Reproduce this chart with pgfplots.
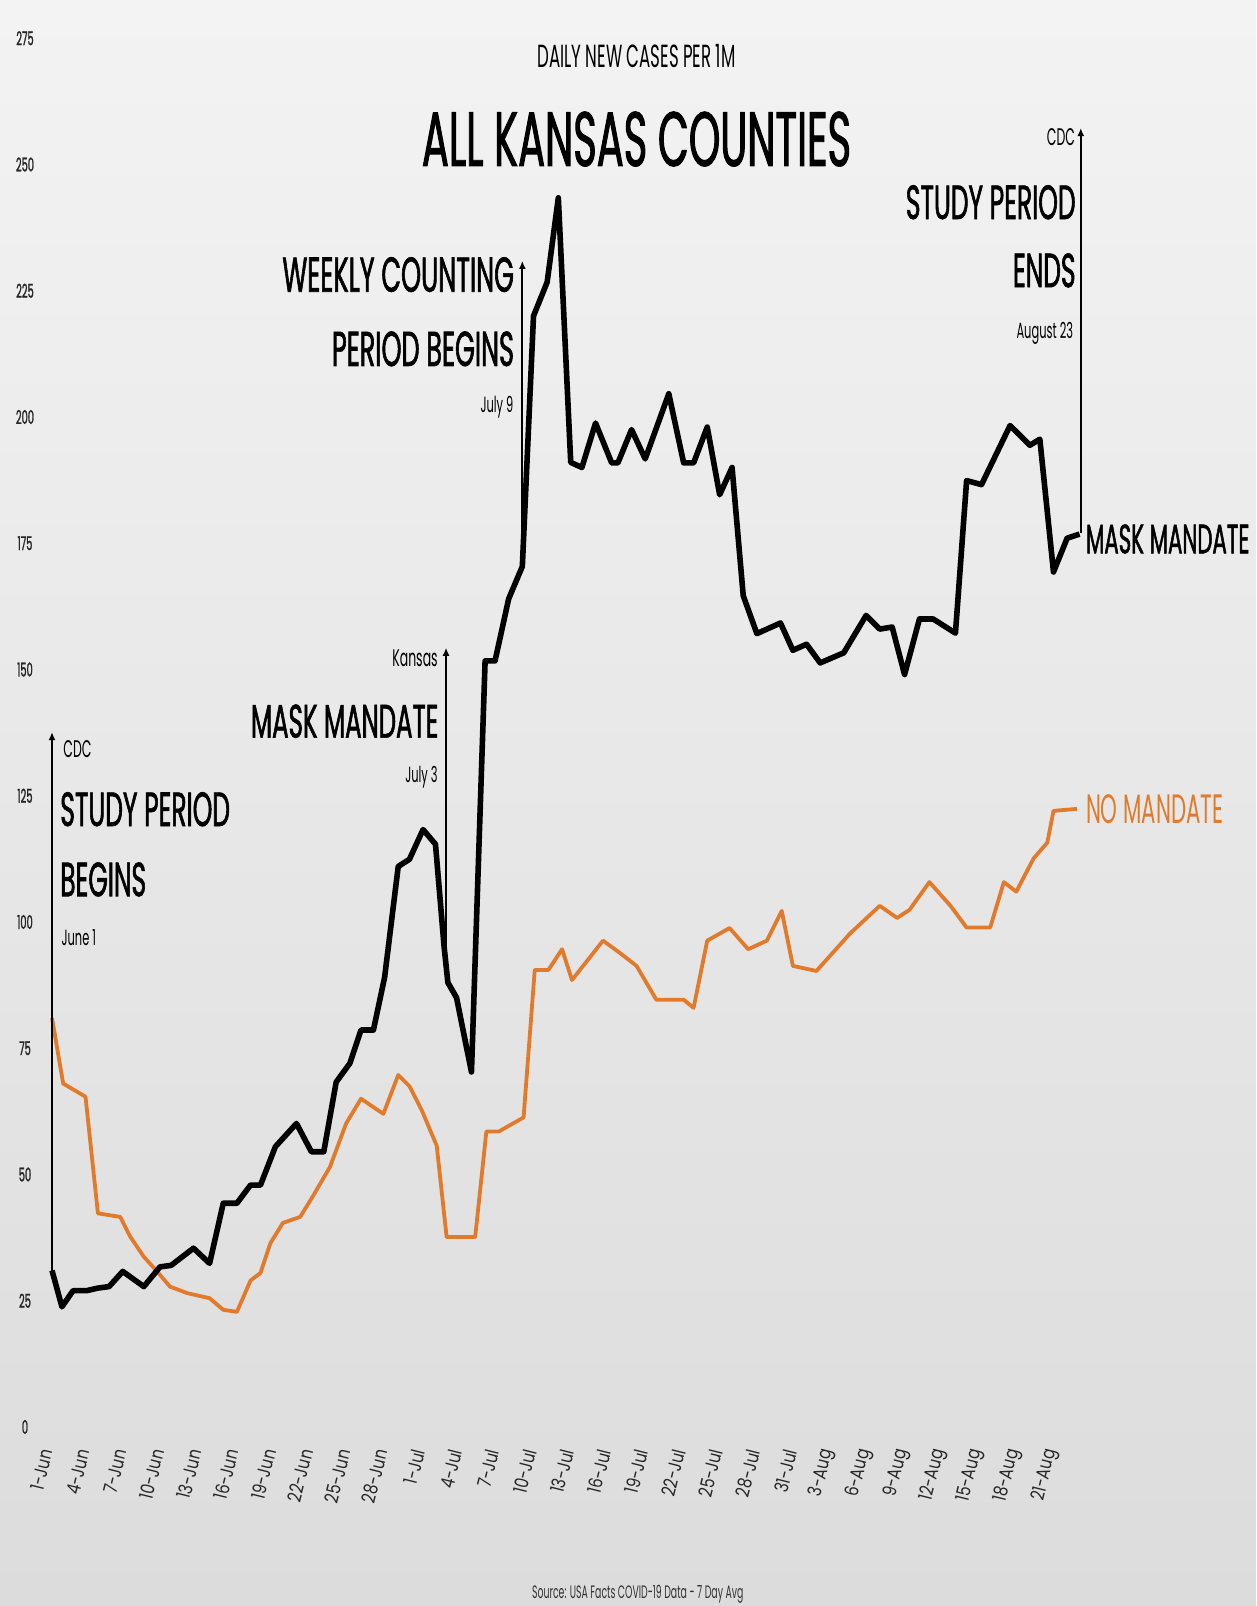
\documentclass[border=0pt]{standalone}
\usepackage{fontspec}
\setmainfont{Poppins}[FakeStretch=0.52]
\newfontfamily\plainfont{Poppins}[FakeStretch=0.8]
\newfontfamily\bigfont{Poppins}[FakeStretch=0.52, FakeBold=1.2]
\usepackage{pgfplots}
\pgfplotsset{compat=1.18}
\usetikzlibrary{arrows.meta,backgrounds}
\definecolor{orng}{RGB}{226,122,44}
\definecolor{txt}{RGB}{22,22,22}
\definecolor{bgtop}{RGB}{243,243,243}
\definecolor{bgbot}{RGB}{220,220,220}

\pgfplotstableread{
x y
0 31
0.8 23.8
1.7 27
2.8 27
3.7 27.5
4.6 27.8
5.7 30.8
7.4 27.8
8.7 31.7
9.6 32
11.4 35.4
12.7 32.4
13.8 44.3
14.9 44.3
16 47.9
16.8 47.9
18 55.5
19.7 60.1
20.9 54.5
21.9 54.5
22.9 68.3
24 72
24.9 78.6
25.9 78.6
26.8 89
27.9 111
28.8 112.4
29.9 118.3
30.9 115.4
31.6 95
31.9 88
32.6 85
33.8 70.3
34.9 151.7
35.7 151.7
36.8 164
37.9 170.4
38.8 220
39.9 226.7
40.8 243.4
41.8 191
42.7 190
43.8 198.8
45.1 190.9
45.6 190.9
46.7 197.5
47.8 191.7
49.7 204.6
50.9 190.9
51.7 190.9
52.8 198
53.8 184.6
54.8 190
55.7 164.6
56.8 157.1
58.7 159.2
59.7 153.8
60.8 155
61.9 151.3
63.8 153.3
65.6 160.7
66.7 158
67.7 158.4
68.7 149
69.9 160
71 160
72.8 157.2
73.7 187.4
74.9 186.6
77.2 198.3
78.8 194.4
79.6 195.6
80.7 169.3
81.8 176
82.8 176.8
}\mask

\pgfplotstableread{
x y
0 81
0.9 68
2.7 65.4
3.7 42.3
5.5 41.6
6.3 37.7
7.4 33.7
8.4 31
9.5 27.8
10.9 26.5
12.7 25.5
13.8 23.2
14.9 22.8
16 29
16.8 30.5
17.6 36.4
18.6 40.4
20 41.6
21 45.6
22.4 51.5
23.7 60.1
24.9 65
26.7 62
27.9 69.7
28.8 67.5
29.8 62.7
31 55.7
31.8 37.6
34.1 37.6
35 58.5
36 58.5
38 61.3
38.9 90.5
40 90.5
41.1 94.6
41.9 88.5
44.4 96.3
45.8 93.8
47.1 91.3
48.7 84.6
50.9 84.6
51.7 83
52.8 96.3
54.6 98.8
56.1 94.6
57.6 96.3
58.8 102.2
59.7 91.3
61.6 90.3
64.3 97.7
66.7 103.2
68.1 100.8
69.1 102.4
70.7 107.9
72.4 103.2
73.7 98.9
75.6 98.9
76.7 107.9
77.7 106
79.1 112.6
80.2 115.7
80.7 122
82.6 122.4
}\nomask

\begin{document}
\begin{tikzpicture}
\begin{axis}[
  x=6.205pt, y=2.525pt,
  xmin=-0.5, xmax=84.5, ymin=0, ymax=275,
  clip=false,
  axis line style={draw=none},
  major tick style={draw=none},
  xtick={0,3,...,81},
  xticklabels={1-Jun,4-Jun,7-Jun,10-Jun,13-Jun,16-Jun,19-Jun,22-Jun,25-Jun,28-Jun,1-Jul,4-Jul,7-Jul,10-Jul,13-Jul,16-Jul,19-Jul,22-Jul,25-Jul,28-Jul,31-Jul,3-Aug,6-Aug,9-Aug,12-Aug,15-Aug,18-Aug,21-Aug},
  ytick={0,25,...,275},
  /pgf/number format/assume math mode=true,
  yticklabel style={font=\bigfont\fontsize{9.5}{10}\selectfont, text=black!85, anchor=center, xshift=-10.4pt},
  xticklabel style={font=\plainfont\fontsize{9.5}{10}\selectfont, text=black!85, yshift=-8pt, xshift=-2pt, rotate=76, anchor=east},
  every node/.append style={inner sep=0pt, text=txt},
]
\coordinate (BL) at (axis cs:-4.19,-35.45);
\coordinate (TR) at (axis cs:97.02,282.57);

\addplot[orng, line width=1.9pt, line join=round] table[x=x,y=y] {\nomask};
\addplot[black, line width=2.8pt, line join=round] table[x=x,y=y] {\mask};

% annotation lines
\draw[black, line width=1pt, -{Latex[length=4pt,width=3.5pt]}] (axis cs:0,29.5) -- (axis cs:0,137.6);
\draw[black, line width=1pt, -{Latex[length=4pt,width=3.5pt]}] (axis cs:31.75,92) -- (axis cs:31.75,154.3);
\draw[black, line width=1pt, -{Latex[length=4pt,width=3.5pt]}] (axis cs:37.9,170.4) -- (axis cs:37.9,230.9);
\draw[black, line width=1pt, -{Latex[length=4pt,width=3.5pt]}] (axis cs:82.9,177) -- (axis cs:82.9,257.2);

% titles
\node[anchor=base, font=\fontsize{16}{16}\selectfont] at (axis cs:47.1,269.3) {DAILY NEW CASES PER 1M};
\node[anchor=base, font=\bigfont\fontsize{38.5}{38}\selectfont] at (axis cs:47.1,249.7) {ALL KANSAS COUNTIES};

% begin
\node[anchor=base west, font=\fontsize{12}{12}\selectfont] at (axis cs:0.35,132.5) {CDC};
\node[anchor=base west, font=\bigfont\fontsize{24}{24}\selectfont] at (axis cs:0.1,119) {STUDY PERIOD};
\node[anchor=base west, font=\bigfont\fontsize{24}{24}\selectfont] at (axis cs:0.1,105.1) {BEGINS};
\node[anchor=base west, font=\fontsize{11}{11}\selectfont] at (axis cs:0.2,95.3) {June 1};

% Kansas
\node[anchor=base east, font=\fontsize{12}{12}\selectfont] at (axis cs:31.65,150.5) {Kansas};
\node[anchor=base east, font=\bigfont\fontsize{23.5}{24}\selectfont] at (axis cs:31.7,136.5) {MASK MANDATE};
\node[anchor=base east, font=\fontsize{11}{11}\selectfont] at (axis cs:31.65,127.6) {July 3};

% weekly
\node[anchor=base east, font=\bigfont\fontsize{24.5}{24}\selectfont] at (axis cs:37.8,224.8) {WEEKLY COUNTING};
\node[anchor=base east, font=\bigfont\fontsize{24.5}{24}\selectfont] at (axis cs:37.8,210.1) {PERIOD BEGINS};
\node[anchor=base east, font=\fontsize{11}{11}\selectfont] at (axis cs:37.75,200.8) {July 9};

% end
\node[anchor=base east, font=\fontsize{12}{12}\selectfont] at (axis cs:83.0,253.8) {CDC};
\node[anchor=base east, font=\bigfont\fontsize{24}{24}\selectfont] at (axis cs:83.05,239.2) {STUDY PERIOD};
\node[anchor=base east, font=\bigfont\fontsize{24}{24}\selectfont] at (axis cs:83.05,225.7) {ENDS};
\node[anchor=base east, font=\fontsize{11}{11}\selectfont] at (axis cs:82.85,215.6) {August 23};

% series labels
\node[anchor=base west, font=\bigfont\fontsize{20.5}{20}\selectfont] at (axis cs:82.75,173) {MASK MANDATE};
\node[anchor=base west, font=\fontsize{20.5}{20}\selectfont, text=orng] at (axis cs:82.75,119.5) {NO MANDATE};

% source
\node[anchor=base, font=\fontsize{9}{9}\selectfont, text=black!80] at (axis cs:47.2,-33.9) {Source: USA Facts COVID-19 Data - 7 Day Avg};
\end{axis}
\begin{scope}[on background layer]
\shade[top color=bgtop, bottom color=bgbot] (BL) rectangle (TR);
\end{scope}
\pgfresetboundingbox
\path[use as bounding box] (BL) rectangle (TR);
\end{tikzpicture}
\end{document}
